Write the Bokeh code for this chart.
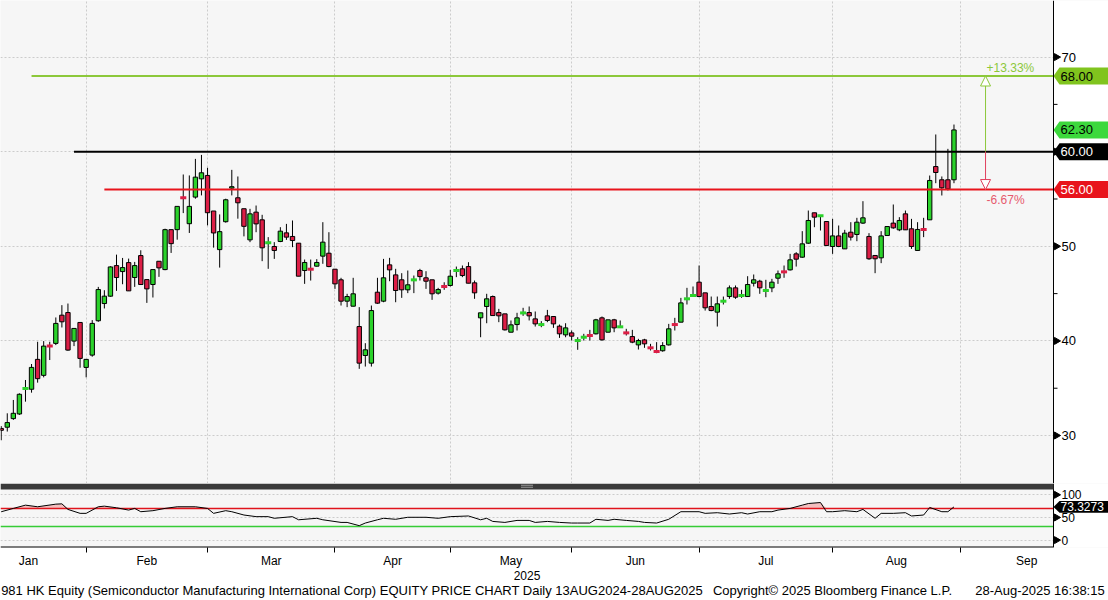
import numpy as np
from bokeh.plotting import figure
from bokeh.layouts import column
from bokeh.models import (Range1d, FixedTicker, Label, Arrow, NormalHead,
                          BoxAnnotation, Span, ColumnDataSource, LinearAxis)
from bokeh.core.properties import value
from bokeh.embed import file_html
from bokeh.resources import INLINE

# ---------------- data (daily candles, trading-day index 0..157) ----------------
opens = [30.75,30.88,31.79,32.28,34.95,34.89,38.05,36.36,39.47,39.74,
42.72,43.0,39.98,41.95,37.2,38.5,42.13,43.95,44.73,47.96,
47.33,48.28,46.70,49.02,46.48,45.96,48.42,47.54,51.76,51.76,
55.17,52.39,55.2,57.13,57.49,53.73,49.65,52.6,56.15,55.13,
53.97,50.68,53.61,52.8,50.35,49.98,50.51,51.42,51.04,50.33,
47.44,47.6,47.9,48.96,49.27,47.58,46.46,44.2,43.67,41.52,
38.46,37.65,45.15,44.2,48.04,46.98,46.46,45.4,46.43,47.44,
46.67,46.46,45.05,45.77,45.86,47.42,47.62,47.86,46.14,42.44,
43.64,44.69,43.0,42.86,40.92,41.73,42.95,43.0,42.33,41.71,
42.65,42.58,41.56,40.64,40.85,40.02,40.37,40.59,40.75,42.44,
40.92,42.23,41.47,40.87,40.46,39.58,40.11,39.29,38.9,38.96,
39.58,41.75,41.98,44.43,44.78,46.21,45.08,43.64,43.04,44.18,
44.69,45.61,44.78,44.69,46.1,46.31,45.31,45.61,46.63,47.32,
47.51,49.2,48.85,50.33,53.54,53.2,52.62,49.98,51.1,49.73,
51.49,51.25,52.45,51.04,49.03,48.78,51.14,52.45,51.74,53.43,
51.85,49.56,51.8,52.8,58.43,57.03,57.03,57.03]
highs = [31.0,32.35,33.76,34.46,35.87,37.56,39.91,39.98,39.91,42.48,
43.78,43.95,41.35,41.95,38.05,42.2,45.71,45.36,47.89,49.12,
48.77,48.7,48.35,49.58,46.48,47.54,48.42,51.86,51.76,54.22,
57.59,57.49,59.24,59.66,58.30,53.73,53.37,55.03,58.08,57.38,
53.97,53.96,54.31,53.33,50.97,50.44,52.02,52.37,52.73,50.33,
48.6,48.6,48.64,52.55,51.49,47.58,46.67,44.98,46.67,43.57,
39.76,43.74,46.67,48.67,48.78,47.62,47.16,47.44,46.91,47.62,
47.37,46.46,45.61,46.2,47.51,47.86,47.97,48.32,46.38,42.97,
44.98,44.8,43.39,42.86,42.16,42.97,43.5,43.64,43.11,42.09,
43.28,42.58,41.73,41.87,41.10,40.39,40.75,41.17,42.33,42.58,
42.23,42.33,42.16,41.28,41.17,40.22,40.22,39.69,39.87,39.87,
41.8,42.44,44.55,45.61,45.75,47.97,45.08,44.69,44.69,44.69,
45.86,45.86,45.4,46.84,47.02,46.46,46.46,46.56,47.44,47.97,
49.2,49.38,51.6,53.78,53.54,53.24,52.62,52.9,52.2,51.74,
52.55,53.01,54.77,51.39,49.03,51.6,52.09,54.42,53.08,53.78,
52.9,52.55,53.01,57.48,61.82,57.38,60.3,62.87]
lows = [29.5,30.42,31.65,32.18,33.58,34.53,35.59,36.15,37.98,39.56,
41.42,38.96,39.45,37.17,36.15,38.33,42.02,43.43,44.66,45.29,
45.99,45.29,45.71,45.96,44.02,44.59,46.77,47.47,49.3,50.7,
53.51,51.41,55.03,55.38,52.21,49.86,47.75,52.5,55.38,52.92,
51.05,50.44,51.49,48.43,47.62,48.67,50.44,50.68,49.91,46.84,
46.03,46.38,47.86,48.15,47.79,45.5,43.74,43.57,43.64,37.05,
37.29,37.29,43.92,44.09,46.31,44.09,44.55,45.05,45.05,46.38,
45.5,44.34,44.9,45.4,45.75,46.74,46.74,46.1,44.45,40.39,
41.87,42.68,41.98,41.10,40.92,41.10,42.65,42.16,41.52,41.45,
41.98,41.38,40.32,40.39,40.04,39.06,40.04,40.04,40.68,40.04,
40.92,40.92,41.38,40.57,39.76,39.09,39.27,38.99,38.7,38.86,
39.51,41.10,41.98,43.85,44.69,44.62,43.21,43.14,41.52,43.85,
44.45,44.45,44.55,44.69,45.75,44.98,44.62,45.15,46.03,46.67,
47.44,47.86,48.78,50.26,52.02,51.67,50.08,49.2,49.91,49.73,
50.61,50.54,52.37,48.57,47.16,48.22,51.14,51.85,51.6,51.74,
49.73,49.56,50.97,52.8,56.67,55.37,55.9,56.67]
closes = [30.55,31.37,32.35,34.36,35.0,37.2,36.01,39.45,39.43,41.85,
42.02,39.03,41.32,38.15,38.05,41.85,45.43,44.73,47.82,46.70,
47.75,45.29,47.96,45.96,45.5,47.54,47.72,51.76,50.28,54.22,
55.1,54.22,57.31,57.77,53.55,51.41,51.55,54.92,56.3,54.6,
52.11,53.43,52.37,49.84,50.39,49.56,51.6,50.97,50.61,46.84,
48.29,47.56,48.29,50.44,47.86,46.03,44.2,44.69,44.98,37.65,
39.06,43.21,43.99,46.67,47.51,45.33,45.4,45.93,46.48,46.8,
46.31,44.98,45.43,45.73,46.84,47.46,46.91,46.1,45.08,42.97,
44.45,42.68,42.65,41.17,41.70,42.44,42.97,42.65,41.8,41.75,
42.16,41.80,40.75,41.38,40.5,40.06,40.41,40.55,42.23,40.11,
42.23,41.38,41.51,40.83,39.87,40.04,39.69,39.25,38.86,39.51,
41.28,41.71,44.02,44.47,44.82,44.69,43.5,43.21,43.92,44.22,
45.61,44.62,44.82,45.96,46.46,45.61,45.35,46.21,47.09,47.28,
48.57,48.64,50.26,52.73,53.08,53.24,50.08,51.1,49.98,51.39,
50.97,52.55,53.01,48.68,48.68,51.1,52.09,51.95,52.73,51.74,
49.98,51.78,51.76,56.96,57.8,56.18,56.07,62.3]

# months: label and trading-day index of first session (Jan..Oct)
month_names = ["Jan", "Feb", "Mar", "Apr", "May", "Jun", "Jul", "Aug", "Sep"]
month_first_idx = [-5, 14, 34, 55, 74, 94, 115, 137, 158, 180]

# drawn levels (value, first index)
level_values = [68.0, 60.0, 56.0]
level_from_idx = [5, 12, 17]
price_ticks = [30, 40, 50, 60, 70]
price_minor = [35, 45, 55, 65]

# RSI-type oscillator (lower panel)
rsi_idx = [0,2,4,6,9,10,11,13,14,16,17,19,21,22,23,25,27,29,32,34,
35,37,38,40,42,44,45,48,49,52,53,56,57,59,60,62,63,65,67,70,
72,74,77,79,80,81,83,85,87,88,90,92,94,95,97,98,100,101,103,105,
106,108,110,112,115,116,118,120,122,123,125,127,128,130,132,133,135,136,137,139,
141,142,144,145,147,149,150,152,153,155,156,157]
rsi_val = [62.6,70.0,77.2,73.6,79.4,80.1,67.8,59.1,59.1,73.6,75.0,71.4,66.3,70.0,62.7,65.0,70.0,73.6,73.6,70.0,
59.1,65.0,62.7,55.4,51.8,51.8,48.2,51.8,44.9,48.2,44.9,39.1,39.1,31.9,37.7,44.9,48.2,46.0,50.4,50.4,
48.2,51.8,53.3,44.9,48.2,41.3,39.1,43.5,43.5,39.1,41.3,39.1,37.7,37.7,37.7,46.0,43.5,46.0,43.5,41.3,
39.1,37.7,46.0,62.7,62.7,59.1,60.5,57.6,60.5,57.6,62.7,62.7,66.3,70.0,77.2,80.8,83.0,62.7,62.7,65.0,
62.7,67.8,48.2,59.1,59.1,60.5,53.3,55.4,72.1,62.7,62.7,73.3273]
rsi_upper, rsi_lower = 70, 30
rsi_ticks = [0, 50, 100]

footer_texts = ["981 HK Equity (Semiconductor Manufacturing International Corp) EQUITY PRICE CHART  Daily 13AUG2024-28AUG2025",
                "Copyright\u00a9 2025 Bloomberg Finance L.P.",
                "28-Aug-2025 16:38:15"]
year_text = "2025"

assert len(opens) == len(highs) == len(lows) == len(closes)
assert len(rsi_idx) == len(rsi_val)

# ---------------- layout constants ----------------
FONT = "Liberation Sans"
W, H_MAIN, H_RSI = 1108, 483, 117
PLOT_W = 1053                     # x pixel of the price scale line
X0, X1 = -0.115, 173.4            # data x at left edge and at the scale line
Y0, Y1 = 24.93, 75.98
R0, R1 = -16.3, 125.0
R_FRAME_H = 65
px_x = PLOT_W / (X1 - X0)
XR = X0 + W / px_x
px_y = H_MAIN / (Y1 - Y0)
px_r = R_FRAME_H / (R1 - R0)

GREEN = "#2bd22b"
RED = "#dc1e46"
LIME = "#8cc83a"
LEVEL_COLORS = ["#8cc83a", "#000000", "#e8141c"]
BG = "#f6f6f6"
GRID = "#cccccc"


def price_scale(fig, ticks, minor, pxy, size):
    """Right-hand value scale drawn at x = X1 (white strip, line, marks, labels)."""
    fig.add_layout(BoxAnnotation(left=X1, fill_color="white", fill_alpha=1.0,
                                 line_color=None, level="underlay"))
    fig.add_layout(Span(location=X1, dimension="height", line_color="black", line_width=1))
    fig.scatter(x=[X1 + 3 / px_x] * len(ticks), y=ticks, marker="triangle", size=7,
                angle=-np.pi / 2, fill_color="black", line_color="black")
    if minor:
        fig.segment(x0=[X1] * len(minor), x1=[X1 + 4 / px_x] * len(minor), y0=minor,
                    y1=minor, line_color="black", line_width=1)
    fig.text(x=[X1 + 8 / px_x] * len(ticks), y=ticks, text=[str(t) for t in ticks],
             text_font=value(FONT), text_font_size=value(size), text_color="black",
             text_baseline="middle", text_align="left")


def tags(fig, yvals, half_h, fills, texts, text_colors, size, pxy):
    xs, ys = [], []
    for v in yvals:
        xs.append([X1, X1 + 6 / px_x, XR + 1, XR + 1, X1 + 6 / px_x])
        ys.append([v, v + half_h / pxy, v + half_h / pxy, v - half_h / pxy, v - half_h / pxy])
    fig.patches(xs=xs, ys=ys, fill_color=fills, line_color=None)
    fig.text(x=[X1 + 7 / px_x] * len(yvals), y=yvals, text=texts, text_color=text_colors,
             text_font=value(FONT), text_font_size=value(size),
             text_baseline="middle", text_align="left")


# ---------------- main price panel ----------------
p = figure(width=W, height=H_MAIN, x_range=Range1d(X0, XR), y_range=Range1d(Y0, Y1),
           output_backend="svg", toolbar_location=None, x_axis_location=None,
           y_axis_location=None, min_border_left=0, min_border_top=0,
           min_border_bottom=0, min_border_right=0)
p.background_fill_color = BG
p.border_fill_color = "white"
p.outline_line_color = None

p.ygrid.ticker = FixedTicker(ticks=price_ticks)
p.ygrid.grid_line_dash = "2 2"
p.ygrid.grid_line_color = GRID
p.xgrid.ticker = FixedTicker(ticks=month_first_idx)
p.xgrid.grid_line_dash = "2 2"
p.xgrid.grid_line_color = GRID

o = np.array(opens); h = np.array(highs); l = np.array(lows); c = np.array(closes)
idx = np.arange(len(o))
colors = np.where(c >= o, GREEN, RED)
doji = np.abs(c - o) < 0.08
body = ~doji

price_scale(p, price_ticks, price_minor, px_y, "13px")

p.segment(x0=idx, y0=l, x1=idx, y1=h, line_color="black", line_width=1)
bsrc = ColumnDataSource(dict(x=idx[body], top=np.maximum(o, c)[body],
                             bottom=np.minimum(o, c)[body], color=colors[body]))
p.vbar(x="x", top="top", bottom="bottom", width=0.72, source=bsrc,
       fill_color="color", line_color="black", line_width=1)
dsrc = ColumnDataSource(dict(x=idx[doji], y=((o + c) / 2)[doji], color=colors[doji]))
p.rect(x="x", y="y", width=1.0, height=3, height_units="screen", source=dsrc,
       fill_color="color", line_color=None)

# horizontal levels
p.segment(x0=level_from_idx, y0=level_values, x1=[X1] * len(level_values),
          y1=level_values, line_color=LEVEL_COLORS, line_width=2)

# percentage arrows from the middle level
up_t, base, dn_t = level_values
arrow_x = 162.2
p.add_layout(Arrow(x_start=arrow_x, y_start=base, x_end=arrow_x, y_end=up_t,
                   line_color=LIME, line_width=1,
                   end=NormalHead(size=10, fill_color="white", line_color=LIME, line_width=1)))
p.add_layout(Arrow(x_start=arrow_x, y_start=base, x_end=arrow_x, y_end=dn_t,
                   line_color="#e0405e", line_width=1,
                   end=NormalHead(size=10, fill_color="white", line_color="#e0405e", line_width=1)))
p.add_layout(Label(x=arrow_x, y=up_t, text=f"{(up_t - base) / base * 100:+.2f}%",
                   text_color=LIME, text_font=FONT, text_font_size="12px",
                   text_align="left", text_baseline="bottom", x_offset=1, y_offset=1))
p.add_layout(Label(x=arrow_x, y=dn_t, text=f"{(dn_t - base) / base * 100:.2f}%",
                   text_color="#e65a6e", text_font=FONT, text_font_size="12px",
                   text_align="left", text_baseline="top", x_offset=1, y_offset=-3))

tag_vals = [up_t, closes[-1], base, dn_t]
tags(p, tag_vals, 8.5, ["#80c41e", "#3cd83c", "#000000", "#e8141c"],
     [f"{v:.2f}" for v in tag_vals], ["#000000", "#000000", "#ffffff", "#ffffff"],
     "13px", px_y)

# ---------------- lower oscillator panel ----------------
r = figure(width=W, height=H_RSI, x_range=p.x_range, y_range=Range1d(R0, R1),
           output_backend="svg", toolbar_location=None, y_axis_location=None,
           min_border_left=0, min_border_top=0, min_border_bottom=H_RSI - R_FRAME_H,
           min_border_right=0)
r.background_fill_color = BG
r.border_fill_color = "white"
r.outline_line_color = None

month_mid = [(month_first_idx[i] + month_first_idx[i + 1]) / 2 for i in range(len(month_names))]
bounds = [m for m in month_first_idx if X0 < m < X1]
xax = r.xaxis[0]
xax.ticker = FixedTicker(ticks=month_mid, minor_ticks=bounds)
xax.major_label_overrides = {m: n for m, n in zip(month_mid, month_names)}
xax.major_tick_out = 0
xax.major_tick_in = 0
xax.minor_tick_out = 5
xax.minor_tick_in = 0
xax.minor_tick_line_color = "black"
xax.axis_line_color = None
xax.major_label_standoff = 1
xax.major_label_text_font = FONT
xax.major_label_text_font_size = "12px"
xax.major_label_text_color = "black"


def text_axis(fig, centers_px, labels, size, standoff):
    ticks = [X0 + cpx / px_x for cpx in centers_px]
    ax = LinearAxis(ticker=FixedTicker(ticks=ticks, minor_ticks=[]),
                    major_label_overrides={t: s for t, s in zip(ticks, labels)})
    ax.axis_line_color = None
    ax.major_tick_out = 0
    ax.major_tick_in = 0
    ax.minor_tick_out = 0
    ax.minor_tick_in = 0
    ax.major_label_standoff = standoff
    ax.major_label_text_font = FONT
    ax.major_label_text_font_size = size
    ax.major_label_text_color = "black"
    fig.add_layout(ax, "below")


text_axis(r, [526.5], [year_text], "12px", 0)
text_axis(r, [353.5, 832, 1039.5], footer_texts, "13px", 0)

r.ygrid.ticker = FixedTicker(ticks=rsi_ticks)
r.ygrid.grid_line_dash = "2 2"
r.ygrid.grid_line_color = GRID
r.xgrid.visible = False

price_scale(r, rsi_ticks, [], px_r, "12px")

ri = np.array(rsi_idx, dtype=float)
rv = np.array(rsi_val)
r.varea(x=ri, y1=np.full(len(rv), float(rsi_upper)), y2=np.maximum(rv, rsi_upper),
        fill_color="#f3b9b9", fill_alpha=0.9)
r.segment(x0=[X0, X0], x1=[X1, X1], y0=[rsi_upper, rsi_lower], y1=[rsi_upper, rsi_lower],
          line_color=["#e0141c", "#36cc36"], line_width=1.5)
r.line(ri, rv, line_color="black", line_width=1)
# bottom frame line of the plotting area
r.segment(x0=[X0], x1=[X1], y0=[R0], y1=[R0], line_color="black", line_width=2)

# separator bar between panels
sep_bottom = R1 - 6 / px_r
r.add_layout(BoxAnnotation(bottom=sep_bottom, right=X1, fill_color="#3a3a3a",
                           fill_alpha=1.0, line_color=None))
mid_x = X0 + (PLOT_W / 2) / px_x
for b, t in [(R1 - 2.2 / px_r, R1 - 1.2 / px_r), (R1 - 4.4 / px_r, R1 - 3.4 / px_r)]:
    r.add_layout(BoxAnnotation(left=mid_x - 6 / px_x, right=mid_x + 6 / px_x,
                               bottom=b, top=t, fill_color="#9a9a9a",
                               fill_alpha=1.0, line_color=None))

tags(r, [rsi_val[-1]], 6, ["#000000"], [f"{rsi_val[-1]:.4f}"], ["#ffffff"], "12px", px_r)

layout = column(p, r, spacing=0)
open("out.html", "w").write(file_html(layout, INLINE))
